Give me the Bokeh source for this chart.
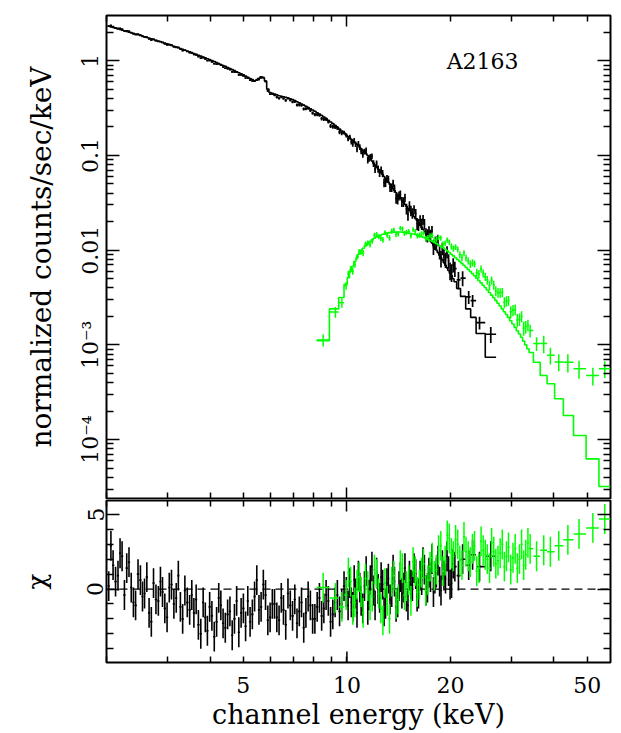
import re
from bokeh.plotting import figure
from bokeh.models import (FixedTicker, LogAxis, LinearAxis, Range1d,
                          ColumnDataSource, Label, Span)
from bokeh.layouts import column
from bokeh.embed import file_html
from bokeh.resources import INLINE

# ---------------- data ----------------
# black data group: bin centres (keV)
black_energy = [
    2.03, 2.06, 2.09, 2.125, 2.16, 2.19, 2.22, 2.255, 2.29, 2.325, 2.36, 2.395, 2.43, 2.47, 2.51, 2.545,
    2.58, 2.62, 2.66, 2.70, 2.74, 2.785, 2.83, 2.87, 2.91, 2.955, 3.00, 3.045, 3.09, 3.14, 3.19, 3.235,
    3.28, 3.33, 3.38, 3.435, 3.49, 3.54,
    3.59, 3.645, 3.70, 3.76, 3.82, 3.875, 3.93, 3.99, 4.05, 4.115, 4.18, 4.24, 4.30, 4.365, 4.43, 4.50,
    4.57, 4.64, 4.71, 4.78, 4.85, 4.925, 5.00, 5.075,
    5.15, 5.23, 5.31, 5.39, 5.47, 5.55, 5.63, 5.715, 5.80, 5.89, 5.98, 6.07,
    6.16, 6.255, 6.35, 6.445, 6.54, 6.64, 6.74, 6.845, 6.95, 7.055, 7.16, 7.27, 7.38, 7.49, 7.60, 7.715,
    7.83, 7.95, 8.07, 8.195, 8.32, 8.445, 8.57, 8.70, 8.83, 8.965, 9.10, 9.24, 9.38, 9.52, 9.66, 9.81,
    9.96, 10.08,
    10.2, 10.3, 10.4, 10.5, 10.6, 10.7, 10.8, 10.9, 11.0, 11.125, 11.25, 11.375, 11.5, 11.6, 11.7, 11.825,
    11.95, 12.075, 12.2, 12.325, 12.45, 12.575, 12.7, 12.825, 12.95, 13.075, 13.2, 13.35, 13.5, 13.625,
    13.75, 13.9, 14.05, 14.175, 14.3, 14.45, 14.6, 14.75, 14.9, 15.05, 15.2, 15.35,
    15.5, 15.675, 15.85, 16.0, 16.15, 16.325, 16.5, 16.65, 16.8, 16.975, 17.15, 17.325, 17.5, 17.675,
    17.85, 18.025, 18.2, 18.4, 18.6, 18.775, 18.95, 19.15, 19.35, 19.55, 19.75, 19.95, 20.15, 20.375,
    20.6, 21.1, 21.7,
    22.6, 23.2, 24.3, 26.2,
]
# log10 of the black model (normalized counts/sec/keV)
black_model_log10 = [
    0.364, 0.3575, 0.351, 0.3435, 0.336, 0.3295, 0.323, 0.316, 0.309, 0.302, 0.295, 0.2885, 0.282, 0.2745,
    0.267, 0.260,
    0.253, 0.2455, 0.238, 0.2305, 0.223, 0.215, 0.207, 0.200, 0.193, 0.1855, 0.178, 0.170, 0.162, 0.153,
    0.144, 0.136, 0.128, 0.1195, 0.111, 0.1025, 0.094, 0.085,
    0.076, 0.067, 0.058, 0.048, 0.038, 0.0295, 0.021, 0.011, 0.001, -0.0095, -0.020, -0.030, -0.040,
    -0.050, -0.060, -0.0715, -0.083, -0.094, -0.105, -0.116, -0.127, -0.1385, -0.150, -0.1625,
    -0.175, -0.188, -0.200, -0.212, -0.205, -0.185, -0.170, -0.180, -0.215, -0.300, -0.335, -0.344,
    -0.352, -0.361, -0.370, -0.3755, -0.381, -0.387, -0.393, -0.401, -0.409, -0.421, -0.433, -0.445,
    -0.457, -0.469, -0.481, -0.494, -0.507, -0.5205, -0.534, -0.549, -0.564, -0.579, -0.594, -0.6115,
    -0.629, -0.6465, -0.664, -0.683, -0.702, -0.722, -0.742, -0.763, -0.784, -0.8005,
    -0.817, -0.8305, -0.844, -0.858, -0.872, -0.886, -0.900, -0.9145, -0.929, -0.947, -0.965, -0.9825,
    -1.000, -1.018, -1.036, -1.0585, -1.081, -1.102, -1.123, -1.1425, -1.162, -1.182, -1.202, -1.222,
    -1.242, -1.262, -1.282, -1.306, -1.330, -1.350, -1.370, -1.3935, -1.417, -1.4345, -1.452, -1.473,
    -1.494, -1.515, -1.536, -1.5575, -1.579, -1.5995,
    -1.620, -1.6445, -1.669, -1.690, -1.711, -1.7355, -1.760, -1.781, -1.802, -1.8265, -1.851, -1.8755,
    -1.900, -1.9245, -1.949, -1.9735, -1.998, -2.026, -2.054, -2.0785, -2.103, -2.131, -2.159, -2.187,
    -2.215, -2.243, -2.271, -2.3025,
    -2.334, -2.404, -2.488,
    -2.62, -2.71, -2.88, -3.13,
]
# residuals (data - model) / error
black_chi = [
    0.2, 2.9, 1.6, 0.5, 0.9, 2.4, 2.2, -0.4, 1.4, 1.8, 0.1, -0.9, -1.1, 1.0, 0.6, -0.5,
    -0.3, 0.8, -1.6, -2.2, 0.4, -0.7, -0.8, 0.5, -0.2, -1.3, -1.9, 0.1, 0.3, -1.0, -0.6, 0.9,
    -1.2, -2.0, -0.1, -0.9, -1.4, -0.4,
    -1.6, -0.7, -2.4, -3.0, -0.9, -1.9, -2.8, -1.2, -1.8, -3.2, -2.2, -0.6, -1.1, -2.3, -2.6, -1.7,
    -1.5, -3.1, -2.0, -0.8, -2.9, -1.6, -1.3, -2.5,
    -0.8, -2.2, -1.7, -0.5, 0.6, -1.4, -1.2, 0.3, -0.4, -2.1, -1.9, -1.0,
    -1.0, -1.9, -2.1, -0.6, -1.4, -2.4, -0.3, -1.1, -1.8, -0.7, -2.3, -1.5, -0.9, -2.6, -1.6, -0.5,
    -1.1, -2.0, -2.0, -1.2, -0.6, -1.8, -1.3, -0.4, -0.8, -2.2, -1.7, -0.9, -0.4, -1.5, -1.0, 0.2,
    -0.2, -1.1,
    0.4, -0.9, -1.2, 0.6, -0.3, -1.6, 0.9, 0.1, -0.8, -1.3, 0.2, 1.2, -1.4, -0.4, 0.6, 1.5,
    -0.1, -1.1, 1.1, 0.0, -0.6, 0.8, 0.3, -1.5, -1.0, 0.4, 0.7, -0.7, -0.2, 1.3,
    0.5, -1.2, -0.9, 0.2, 0.8, -0.3, 0.1, 1.4, -0.5, -1.1, 0.9, 0.3,
    0.2, 1.4, 1.0, -0.5, -0.3, 0.9, 0.6, 1.8, 1.3, -0.1, 0.1, 1.1, 0.8, 2.0,
    -0.2, 0.7, 1.1, 1.9, 0.5, -0.1, 1.6, 0.9, 0.7, 2.2, 1.2, 0.3, 0.4, 1.7,
    1.5, 0.9, 2.0,
    1.6, 2.3, 1.5, 2.2,
]
# error / model
black_rel_err = [
    0.012, 0.012, 0.012, 0.012, 0.012, 0.012, 0.012, 0.012, 0.012, 0.012, 0.012, 0.012, 0.013, 0.013,
    0.013, 0.013,
    0.013, 0.013, 0.013, 0.013, 0.013, 0.013, 0.013, 0.013, 0.013, 0.013, 0.014, 0.014, 0.014, 0.014,
    0.014, 0.014, 0.014, 0.014, 0.014, 0.014, 0.015, 0.015,
    0.015, 0.015, 0.015, 0.015, 0.015, 0.015, 0.016, 0.016, 0.016, 0.016, 0.016, 0.016, 0.016, 0.016,
    0.017, 0.017, 0.017, 0.017, 0.017, 0.017, 0.018, 0.018, 0.018, 0.018,
    0.018, 0.018, 0.019, 0.019, 0.019, 0.019, 0.019, 0.019, 0.020, 0.020, 0.021, 0.021,
    0.027, 0.028, 0.029, 0.029, 0.029, 0.029, 0.030, 0.031, 0.031, 0.032, 0.033, 0.033, 0.034,
    0.034, 0.035, 0.036, 0.036, 0.037, 0.038, 0.038, 0.039, 0.040, 0.040, 0.041, 0.042, 0.043,
    0.044, 0.045, 0.046, 0.047, 0.048, 0.049, 0.051, 0.051,
    0.060, 0.062, 0.063, 0.064, 0.065, 0.066, 0.068, 0.068, 0.069, 0.071, 0.072, 0.074, 0.075, 0.077,
    0.078, 0.080, 0.081, 0.083, 0.084, 0.086, 0.087, 0.089, 0.090, 0.092, 0.095, 0.096, 0.098, 0.100,
    0.102, 0.104, 0.105, 0.107, 0.110, 0.112, 0.114, 0.116, 0.119, 0.121, 0.123, 0.125, 0.128, 0.131,
    0.129, 0.132, 0.135, 0.138, 0.141, 0.143, 0.145, 0.149, 0.152, 0.156, 0.160, 0.163, 0.167, 0.170,
    0.174, 0.178, 0.183, 0.187, 0.191, 0.196, 0.200, 0.205, 0.210, 0.215, 0.220, 0.226, 0.232, 0.239,
    0.25, 0.26, 0.28,
    0.21, 0.22, 0.20, 0.34,
]

# green data group: bin centres (keV)
green_energy = [
    8.53, 9.26, 9.67, 9.95,
    10.1, 10.25, 10.4, 10.55, 10.7, 10.85, 11.0, 11.15,
    11.325, 11.5, 11.675, 11.85, 12.025, 12.2, 12.375, 12.55, 12.725, 12.9,
    13.1, 13.3, 13.5, 13.7, 13.9, 14.1, 14.3, 14.5, 14.7, 14.9,
    15.125, 15.35, 15.575, 15.8, 16.025, 16.25, 16.475, 16.7, 16.95, 17.2,
    17.45, 17.7, 17.95, 18.2, 18.475, 18.75, 19.025, 19.3, 19.575, 19.85,
    20.125, 20.4, 20.7, 21.0, 21.3, 21.6, 21.9, 22.2, 22.525, 22.85,
    23.175, 23.5, 23.85, 24.2, 24.55, 24.9, 25.25, 25.6, 25.975, 26.35,
    26.725, 27.1, 27.5, 27.9, 28.3, 28.7, 29.1, 29.5, 29.95, 30.4,
    30.85, 31.3, 31.75, 32.2, 32.65, 33.1, 33.6, 34.1,
    35.6, 37.35, 39.05, 41.3, 43.9, 47.3, 51.9, 56.2,
]
green_model_log10 = [
    -2.955, -2.62, -2.50, -2.36,
    -2.29, -2.22, -2.17, -2.12, -2.08, -2.04, -2.01, -1.98,
    -1.955, -1.93, -1.91, -1.89, -1.875, -1.86, -1.85, -1.84, -1.8325, -1.825,
    -1.82, -1.815, -1.8125, -1.81, -1.809, -1.808, -1.809, -1.81, -1.8125, -1.815,
    -1.82, -1.825, -1.83, -1.835, -1.8425, -1.85, -1.8575, -1.865, -1.875, -1.885,
    -1.895, -1.905, -1.9175, -1.93, -1.945, -1.96, -1.975, -1.99, -2.0075, -2.025,
    -2.0425, -2.06, -2.08, -2.10, -2.12, -2.14, -2.16, -2.18, -2.2025, -2.225,
    -2.2475, -2.27, -2.295, -2.32, -2.345, -2.37, -2.395, -2.42, -2.4475, -2.475,
    -2.5025, -2.53, -2.56, -2.59, -2.62, -2.65, -2.68, -2.71, -2.745, -2.78,
    -2.815, -2.85, -2.885, -2.92, -2.96, -3.00, -3.04, -3.08,
    -3.183, -3.323, -3.41, -3.569, -3.745, -3.957, -4.203, -4.495,
]
green_chi = [
    0.1, -0.6, -1.2, -0.4,
    1.1, 0.5, -1.4, -0.9, 0.3, 0.8, -0.2, -1.6,
    0.7, 0.2, -1.1, -0.5, 1.3, 1.0, -0.3, -1.3, -2.1, 0.4,
    -0.8, -2.0, 0.5, 0.9, -1.0, -0.7, 1.6, 1.4, -0.4, 0.2,
    0.6, -0.8, 1.8, 1.2, -0.2, 0.3, 1.1, 1.7, -0.1, 0.6,
    1.5, 2.1, 0.9, 1.3, 2.6, 2.9, 1.2, 1.9, 3.6, 3.4,
    2.4, 2.2, 3.3, 3.0, 1.9, 1.6, 3.5, 2.5, 2.2, 1.8,
    2.7, 2.9, 1.2, 1.4, 3.2, 2.6, 2.3, 2.0, 1.4, 3.1,
    2.5, 1.7, 1.9, 2.4, 3.0, 1.5, 2.2, 2.8, 1.3, 2.1,
    2.7, 1.4, 2.0, 3.0, 1.6, 2.3, 3.1, 2.7,
    2.2, 2.6, 2.5, 2.9, 3.3, 3.7, 4.1, 4.7,
]
green_rel_err = [
    0.15, 0.12, 0.10, 0.09,
    0.085, 0.08, 0.078, 0.075, 0.072, 0.07, 0.069, 0.068,
    0.066, 0.065, 0.064, 0.063, 0.0625, 0.062, 0.061, 0.06, 0.06, 0.06,
    0.06, 0.06, 0.06, 0.06, 0.06, 0.06, 0.0605, 0.061, 0.0615, 0.062,
    0.0625, 0.063, 0.0635, 0.064, 0.065, 0.066, 0.067, 0.068, 0.069, 0.07,
    0.071, 0.072, 0.0735, 0.075, 0.0765, 0.078, 0.0795, 0.081, 0.083, 0.085,
    0.087, 0.089, 0.091, 0.093, 0.0955, 0.098, 0.099, 0.10, 0.105, 0.11,
    0.1125, 0.115, 0.1175, 0.12, 0.125, 0.13, 0.1325, 0.135, 0.1375, 0.14,
    0.145, 0.15, 0.155, 0.16, 0.165, 0.17, 0.175, 0.18, 0.185, 0.19,
    0.20, 0.21, 0.215, 0.22, 0.23, 0.24, 0.25, 0.26,
    0.26, 0.45, 0.40, 0.5, 0.8, 1.1, 1.6, 3.5,
]

# tick labels
x_tick_values = [5, 10, 20, 50]
x_tick_labels = ["5", "10", "20", "50"]
x_long_tick = 10
x_minor_values = [2, 3, 4, 5, 6, 7, 8, 9, 20, 30, 40, 50]
y_top_values = [1e-4, 1e-3, 1e-2, 1e-1, 1]
y_top_labels = ["10⁻⁴", "10⁻³", "0.01", "0.1", "1"]
y_bot_values = [0, 5]
y_bot_labels = ["0", "5"]
y_bot_minor = [-4, -3, -2, -1, 1, 2, 3, 4]
source_name = "A2163"

# ---------------- style / layout constants ----------------
FONT = "DejaVu Serif"
BLACK = "#000000"
GREEN = "#00FF00"
CREAM = "#FFFCE8"
X_RANGE = (2.0, 58.4)
Y_TOP = (2.39e-5, 3.0)
Y_BOT = (-4.93, 5.94)
W = 604
BL, BR = 89, 11
FH1, FH2 = 483, 162
H1 = 10 + FH1 + 1
H2 = 1 + FH2 + 71
LONG, SHORT = 11, 6
LW_DATA = 1.7


def bin_edges(c):
    e = [c[0] - (c[1] - c[0]) / 2]
    for a, b in zip(c[:-1], c[1:]):
        e.append((a + b) / 2)
    e.append(c[-1] + (c[-1] - c[-2]) / 2)
    return e


def prep(energy, mlog, chi, rel):
    ed = bin_edges(energy)
    lo, hi = ed[:-1], ed[1:]
    model = [10 ** m for m in mlog]
    sig = [m * r for m, r in zip(model, rel)]
    flux = [m + c * s for m, c, s in zip(model, chi, sig)]
    data = dict(e=energy, lo=lo, hi=hi, f=flux,
                flo=[f - s for f, s in zip(flux, sig)],
                fhi=[f + s for f, s in zip(flux, sig)],
                chi=chi, clo=[c - 1 for c in chi], chi_hi=[c + 1 for c in chi])
    xs, ys = [], []
    for l, h, m in zip(lo, hi, model):
        xs += [l, h]
        ys += [m, m]
    return ColumnDataSource(data), xs, ys


def style_ticks(ax, major, minor):
    ax.axis_line_color = None
    ax.major_tick_in = major
    ax.major_tick_out = 0
    ax.minor_tick_in = minor
    ax.minor_tick_out = 0
    ax.major_tick_line_color = BLACK
    ax.minor_tick_line_color = BLACK
    ax.major_tick_line_width = 1.5
    ax.minor_tick_line_width = 1.5


def hide_labels(ax):
    ax.major_label_text_font_size = "1px"
    ax.major_label_text_alpha = 0
    ax.major_label_standoff = 0


def x_ticker():
    return FixedTicker(ticks=[x_long_tick], minor_ticks=x_minor_values)


def y_top_ticker():
    minors = []
    for d in range(-5, 1):
        for k in range(2, 10):
            v = k * 10.0 ** d
            if Y_TOP[0] < v < Y_TOP[1]:
                minors.append(v)
    return FixedTicker(ticks=y_top_values, minor_ticks=minors)


def y_bot_ticker():
    return FixedTicker(ticks=y_bot_values, minor_ticks=y_bot_minor)


def label_font(ax, size):
    ax.major_label_text_font = FONT
    ax.major_label_text_font_size = size
    ax.major_label_text_color = BLACK


def title_font(ax, size):
    ax.axis_label_text_font = FONT
    ax.axis_label_text_font_size = size
    ax.axis_label_text_font_style = "normal"
    ax.axis_label_text_color = BLACK


bsrc, bxs, bys = prep(black_energy, black_model_log10, black_chi, black_rel_err)
gsrc, gxs, gys = prep(green_energy, green_model_log10, green_chi, green_rel_err)

# ---------------- top panel ----------------
p1 = figure(width=W, height=H1, x_axis_type="log", y_axis_type="log",
            x_range=Range1d(*X_RANGE), y_range=Range1d(*Y_TOP),
            output_backend="svg", toolbar_location=None,
            min_border_left=BL, min_border_right=BR, min_border_top=10, min_border_bottom=1)
p1.grid.visible = False
p1.background_fill_color = "white"
p1.border_fill_color = "white"
p1.outline_line_color = BLACK
p1.outline_line_width = 2

p1.xaxis.ticker = x_ticker()
style_ticks(p1.xaxis[0], LONG, SHORT)
hide_labels(p1.xaxis[0])
ax = LogAxis(ticker=x_ticker())
style_ticks(ax, LONG, SHORT)
hide_labels(ax)
p1.add_layout(ax, "above")

p1.yaxis.ticker = y_top_ticker()
style_ticks(p1.yaxis[0], 13, 7)
p1.yaxis.major_label_overrides = dict(zip(y_top_values, y_top_labels))
p1.yaxis.major_label_orientation = "vertical"
label_font(p1.yaxis[0], "22px")
p1.yaxis.major_label_standoff = 3
p1.yaxis.axis_label = "normalized counts/sec/keV"
title_font(p1.yaxis[0], "28px")
p1.yaxis.axis_label_standoff = 18
ay = LogAxis(ticker=y_top_ticker())
style_ticks(ay, 13, 7)
hide_labels(ay)
p1.add_layout(ay, "right")

p1.segment(x0="lo", x1="hi", y0="f", y1="f", source=bsrc, line_color=BLACK, line_width=LW_DATA)
p1.segment(x0="e", x1="e", y0="flo", y1="fhi", source=bsrc, line_color=BLACK, line_width=LW_DATA)
p1.line(bxs, bys, line_color=BLACK, line_width=1.6)
p1.segment(x0="lo", x1="hi", y0="f", y1="f", source=gsrc, line_color=GREEN, line_width=1.5)
p1.segment(x0="e", x1="e", y0="flo", y1="fhi", source=gsrc, line_color=GREEN, line_width=1.5)
p1.line(gxs, gys, line_color=GREEN, line_width=1.6)

p1.add_layout(Label(x=19.5, y=0.97, text=source_name, text_font=FONT,
                    text_font_size="22px", text_color=BLACK, text_baseline="middle",
                    text_align="left"))

# ---------------- residual panel ----------------
p2 = figure(width=W, height=H2, x_axis_type="log",
            x_range=Range1d(*X_RANGE), y_range=Range1d(*Y_BOT),
            output_backend="svg", toolbar_location=None,
            min_border_left=BL, min_border_right=BR, min_border_top=1, min_border_bottom=71)
p2.grid.visible = False
p2.background_fill_color = "white"
p2.border_fill_color = "white"
p2.outline_line_color = BLACK
p2.outline_line_width = 2

# bottom axis: labelled ticks 5, 10, 20, 50 (short), other ticks minor
p2.xaxis.ticker = FixedTicker(ticks=x_tick_values,
                              minor_ticks=[v for v in x_minor_values if v not in x_tick_values])
style_ticks(p2.xaxis[0], SHORT, SHORT)
p2.xaxis.major_label_overrides = dict(zip(x_tick_values, x_tick_labels))
label_font(p2.xaxis[0], "22px")
p2.xaxis.major_label_standoff = 14
p2.xaxis.axis_label = "channel energy (keV)"
title_font(p2.xaxis[0], "27px")
p2.xaxis.axis_label_standoff = 3
ax2 = LogAxis(ticker=x_ticker())
style_ticks(ax2, LONG, SHORT)
hide_labels(ax2)
p2.add_layout(ax2, "above")

p2.yaxis.ticker = y_bot_ticker()
style_ticks(p2.yaxis[0], 13, 7)
p2.yaxis.major_label_overrides = dict(zip(y_bot_values, y_bot_labels))
p2.yaxis.major_label_orientation = "vertical"
label_font(p2.yaxis[0], "22px")
p2.yaxis.major_label_standoff = 3
p2.yaxis.axis_label = "χ"
title_font(p2.yaxis[0], "26px")
p2.yaxis.axis_label_standoff = 33
ay2 = LinearAxis(ticker=y_bot_ticker())
style_ticks(ay2, 13, 7)
hide_labels(ay2)
p2.add_layout(ay2, "right")

zero = Span(location=0, dimension="width", line_color=BLACK, line_width=1.3,
            line_dash="8 5", level="underlay")
p2.add_layout(zero)

p2.segment(x0="lo", x1="hi", y0="chi", y1="chi", source=bsrc, line_color=BLACK, line_width=1.6)
p2.segment(x0="e", x1="e", y0="clo", y1="chi_hi", source=bsrc, line_color=BLACK, line_width=1.6)
p2.segment(x0="lo", x1="hi", y0="chi", y1="chi", source=gsrc, line_color=GREEN, line_width=1.5)
p2.segment(x0="e", x1="e", y0="clo", y1="chi_hi", source=gsrc, line_color=GREEN, line_width=1.5)

# the longer major tick at 10 keV on the bottom axis
tick_len = LONG * (Y_BOT[1] - Y_BOT[0]) / FH2
p2.segment(x0=[x_long_tick], x1=[x_long_tick], y0=[Y_BOT[0]], y1=[Y_BOT[0] + tick_len],
           line_color=BLACK, line_width=1.5)

layout = column(p1, p2, margin=(5, 0, 0, 17))

html = file_html(layout, INLINE)
html = re.sub(r"<body[^>]*>", '<body style="margin:0;background-color:%s;">' % CREAM, html, count=1)
open("out.html", "w").write(html)
